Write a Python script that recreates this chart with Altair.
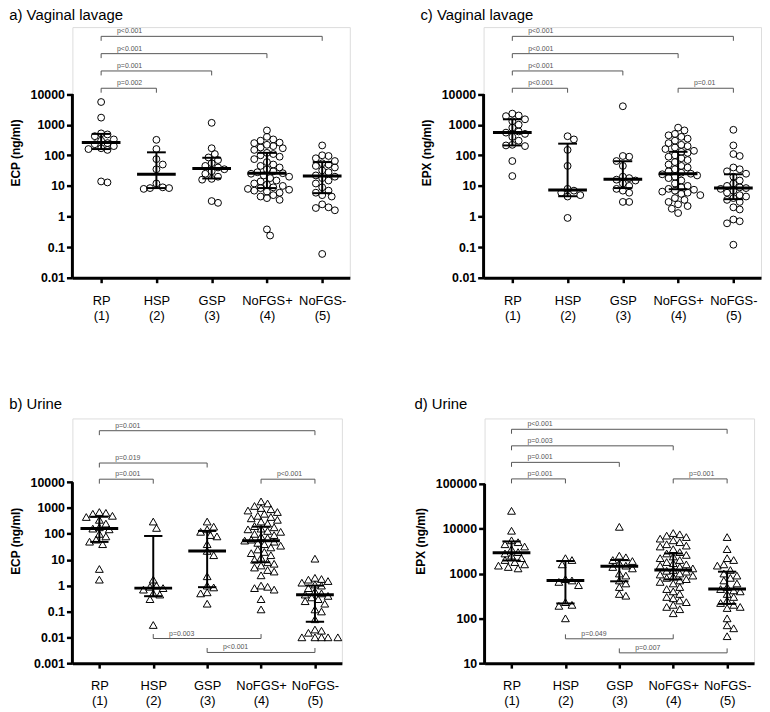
import json
import numpy as np
import pandas as pd
import altair as alt

FONT = "Liberation Sans"
GREY = "#555555"
GROUPS = ["RP", "HSP", "GSP", "NoFGS+", "NoFGS-"]

# ---------------- data ----------------
# a) ECP, vaginal lavage
a_vals = [
    [5500, 1700, 520, 480, 420, 330, 300, 250, 230, 200, 170, 160, 150, 14, 13],
    [320, 160, 75, 50, 35, 12, 9, 8.5, 8, 8.5],
    [1150, 170, 110, 85, 70, 55, 45, 40, 35, 30, 25, 20, 17, 16, 3.2, 2.8],
    [650, 400, 330, 300, 260, 250, 220, 200, 180, 170, 150, 120, 110, 100, 90, 75, 60, 50, 45, 40,
     35, 30, 28, 26, 25, 22, 20, 18, 15, 14, 12, 11, 10, 9, 8.5, 8, 7.5, 7, 6.5, 6, 5, 4.5, 4, 3.5, 0.38, 0.24],
    [210, 100, 95, 80, 65, 55, 50, 45, 40, 32, 28, 22, 20, 18, 15, 12, 9, 7, 6, 5, 4.5, 2.5, 2.0, 1.9, 1.6, 0.06],
]
a_med = [260, 24, 37, 26, 21]
a_q1 = [160, 8.5, 17.5, 8.5, 5.8]
a_q3 = [500, 125, 83, 120, 60]
a_br = [(1, 2, 1, "p=0.002"), (1, 3, 2, "p=0.001"), (1, 4, 3, "p<0.001"), (1, 5, 4, "p<0.001")]
a_br_low = []

# c) EPX, vaginal lavage
c_vals = [
    [2300, 2000, 1900, 1500, 1300, 1000, 800, 600, 550, 500, 400, 300, 220, 210, 200, 65, 21],
    [420, 330, 150, 45, 8, 7, 6, 5, 4.5, 0.9],
    [4000, 95, 90, 65, 45, 20, 18, 16, 15, 12, 10, 8, 7, 6, 3, 3],
    [800, 650, 500, 450, 400, 350, 300, 250, 220, 200, 180, 160, 140, 130, 120, 100, 90, 80, 70, 60,
     50, 45, 40, 35, 30, 27, 25, 24, 22, 20, 18, 15, 12, 10, 9, 8, 7.5, 7, 6.5, 6, 5.5, 5, 4, 3.5, 3,
     2.5, 2.2, 1.8, 1.3],
    [680, 210, 110, 95, 40, 35, 30, 25, 20, 15, 12, 10, 9, 8.5, 8, 7, 6, 5, 4.5, 4, 3.5, 3, 2, 1.7,
     0.8, 0.7, 0.6, 0.12],
]
c_med = [560, 7.4, 16.5, 25, 8.5]
c_q1 = [210, 4.6, 8.5, 7.8, 3.7]
c_q3 = [1500, 240, 64, 130, 24]
c_br = [(1, 2, 1, "p<0.001"), (1, 3, 2, "p<0.001"), (1, 4, 3, "p<0.001"), (1, 5, 4, "p<0.001"),
        (4, 5, 1, "p=0.01")]
c_br_low = []

# b) ECP, urine
b_vals = [
    [700, 650, 600, 500, 450, 350, 250, 180, 160, 150, 100, 80, 60, 50, 40, 4.4, 1.7],
    [300, 170, 1.7, 1.0, 0.9, 0.8, 0.7, 0.5, 0.45, 0.3, 0.03],
    [300, 190, 150, 120, 90, 80, 40, 22, 15, 2.3, 1.0, 0.85, 0.55, 0.5, 0.2],
    [1800, 1500, 1200, 1000, 900, 800, 700, 600, 500, 450, 400, 350, 300, 250, 200, 180, 160, 150,
     130, 120, 100, 90, 80, 70, 60, 55, 50, 45, 40, 35, 30, 25, 20, 18, 15, 12, 10, 8, 7, 6, 5, 4,
     3.5, 2.5, 1.0, 0.9, 0.8, 0.7, 0.3, 0.12],
    [11, 2.0, 1.8, 1.7, 1.5, 1.3, 1.1, 1.0, 0.8, 0.6, 0.5, 0.45, 0.4, 0.35, 0.3, 0.25, 0.2, 0.12,
     0.1, 0.05, 0.02, 0.018, 0.015, 0.01, 0.01, 0.01, 0.01, 0.01],
]
b_med = [160, 0.8, 22, 54, 0.44]
b_q1 = [49, 0.39, 0.87, 8, 0.04]
b_q3 = [460, 83, 130, 190, 1.0]
b_br = [(1, 2, 1, "p=0.001"), (1, 3, 2, "p=0.019"), (1, 5, 4, "p=0.001"), (4, 5, 1, "p<0.001")]
b_br_low = [(2, 4, 0.009, "p=0.003"), (3, 5, 0.0026, "p<0.001")]

# d) EPX, urine
d_vals = [
    [25000, 9000, 5500, 5000, 4500, 4000, 3500, 3000, 2800, 2500, 2200, 2000, 1800, 1600, 1500, 1400, 1300],
    [2200, 2000, 1600, 750, 700, 650, 550, 230, 200, 190, 100],
    [11000, 2500, 2300, 2000, 1900, 1700, 1500, 1400, 1300, 1000, 900, 700, 600, 500, 350, 320],
    [8000, 7500, 7000, 6500, 6000, 5500, 5000, 4500, 4200, 4000, 3500, 3000, 2800, 2600, 2400, 2200,
     2000, 1800, 1700, 1600, 1500, 1400, 1300, 1200, 1150, 1100, 1000, 950, 900, 850, 800, 750, 700,
     650, 600, 500, 450, 400, 350, 300, 280, 250, 230, 200, 180, 160, 130],
    [6500, 3500, 2200, 2000, 1600, 1500, 1200, 1000, 900, 800, 700, 600, 500, 450, 420, 400, 350, 300,
     250, 220, 200, 180, 170, 100, 70, 60, 40],
]
d_med = [2900, 700, 1450, 1200, 450]
d_q1 = [1950, 215, 670, 740, 210]
d_q3 = [5200, 1900, 2000, 2800, 1100]
d_br = [(1, 2, 1, "p=0.001"), (1, 3, 2, "p=0.001"), (1, 4, 3, "p=0.003"), (1, 5, 4, "p<0.001"),
        (4, 5, 1, "p=0.001")]
d_br_low = [(2, 4, 35, "p=0.049"), (3, 5, 17, "p=0.007")]

LABEL_EXPR = json.dumps([[g, f"({i + 1})"] for i, g in enumerate(GROUPS)]) + "[datum.value - 1]"


def swarm(vals, pxdec, pxunit, d):
    order = sorted(range(len(vals)), key=lambda k: -vals[k])
    placed = []
    offs = [0.0] * len(vals)
    for k in order:
        y = -np.log10(vals[k]) * pxdec
        cands = [0.0]
        for m in range(1, 40):
            cands += [m * d / 2, -m * d / 2]
        for c in cands:
            if all((c - px) ** 2 + (y - py) ** 2 >= d * d for px, py in placed):
                placed.append((c, y))
                offs[k] = c / pxunit
                break
    return offs


def panel(cfg, vals, med, q1, q3, br, br_low):
    width, height = cfg["width"], cfg["height"]
    xdom = cfg["xdom"]
    ylo, ytop_tick = cfg["ylo"], cfg["yticks"][-1]
    pxunit = width / (xdom[1] - xdom[0])
    pxdec = cfg["pxdec"]
    yhi = ylo * 10 ** (height / pxdec)

    xs = alt.Scale(domain=xdom, nice=False, zero=False)
    ys = alt.Scale(type="log", domain=[ylo, yhi], nice=False)
    xaxis = alt.Axis(values=[1, 2, 3, 4, 5], labelExpr=LABEL_EXPR, grid=False, domainWidth=3,
                     domainColor="black", tickWidth=2.5, tickSize=5, tickColor="black",
                     labelFontSize=13, labelFont=FONT, labelPadding=12, labelColor="black",
                     labelLineHeight=15, title=None)
    yaxis = alt.Axis(values=cfg["yticks"], format="~g", grid=False, domain=False, tickWidth=2.5,
                     tickSize=6, tickColor="black", labelFontSize=12.5, labelFontWeight="bold",
                     labelFont=FONT, labelPadding=2, labelColor="black", title=cfg["ytitle"],
                     titleFontSize=12, titleFontWeight="bold", titlePadding=8, titleFont=FONT,
                     titleColor="black")

    def X(f):
        return alt.X(f, type="quantitative", scale=xs, axis=xaxis)

    def Y(f):
        return alt.Y(f, type="quantitative", scale=ys, axis=yaxis)

    rows = []
    for gi, gv in enumerate(vals):
        offs = swarm(gv, pxdec, pxunit, cfg["gap"])
        for v, o in zip(gv, offs):
            rows.append({"x": gi + 1 + o, "v": v})
    pts = pd.DataFrame(rows)

    stats = pd.DataFrame({
        "g": [1, 2, 3, 4, 5], "med": med, "q1": q1, "q3": q3,
    })
    stats["lo"] = stats["g"] - 0.35
    stats["hi"] = stats["g"] + 0.35
    stats["clo"] = stats["g"] - 0.17
    stats["chi"] = stats["g"] + 0.17

    tick = 10 ** (4.5 / pxdec)
    brows = []
    for i, j, lvl, lab in br:
        yv = ytop_tick * 10 ** (cfg["br_base"] + (lvl - 1) * cfg["br_step"])
        brows.append({"xa": i, "xb": j, "y": yv, "yt": yv / tick, "label": lab})
    for i, j, yv, lab in br_low:
        brows.append({"xa": i, "xb": j, "y": yv, "yt": yv * tick, "label": lab})
    brd = pd.DataFrame(brows)

    axis_df = pd.DataFrame({"x0": [xdom[0]], "a": [ylo], "b": [ytop_tick]})

    base_pts = alt.Chart(pts).mark_point(shape=cfg["shape"], filled=False, color="black",
                                         size=cfg["size"], strokeWidth=1, opacity=1).encode(
        x=X("x"), y=Y("v"))
    med_l = alt.Chart(stats).mark_rule(color="black", strokeWidth=3).encode(
        x=X("lo"), x2="hi", y=Y("med"))
    iqr_l = alt.Chart(stats).mark_rule(color="black", strokeWidth=2).encode(
        x=X("g"), y=Y("q1"), y2="q3")
    cap1 = alt.Chart(stats).mark_rule(color="black", strokeWidth=2).encode(
        x=X("clo"), x2="chi", y=Y("q1"))
    cap3 = alt.Chart(stats).mark_rule(color="black", strokeWidth=2).encode(
        x=X("clo"), x2="chi", y=Y("q3"))
    bh = alt.Chart(brd).mark_rule(color=GREY, strokeWidth=1).encode(
        x=X("xa"), x2="xb", y=Y("y"))
    bl = alt.Chart(brd).mark_rule(color=GREY, strokeWidth=1).encode(
        x=X("xa"), y=Y("y"), y2="yt")
    brr = alt.Chart(brd).mark_rule(color=GREY, strokeWidth=1).encode(
        x=X("xb"), y=Y("y"), y2="yt")
    bt = alt.Chart(brd).mark_text(align="left", baseline="bottom", dx=16, dy=-2, fontSize=7,
                                   font=FONT, fill=GREY).encode(
        x=X("xa"), y=Y("y"), text="label")
    yline = alt.Chart(axis_df).mark_rule(color="black", strokeWidth=3).encode(
        x=X("x0"), y=Y("a"), y2="b")

    return alt.layer(base_pts, med_l, iqr_l, cap1, cap3, bh, bl, brr, bt, yline).properties(
        width=width, height=height,
        title=alt.TitleParams(cfg["title"], anchor="start", frame="bounds", fontSize=15,
                              fontWeight="normal", font=FONT, color="black",
                              offset=cfg["toff"]),
    )


top_ticks = [0.01, 0.1, 1, 10, 100, 1000, 10000]
cfg_a = dict(title="a) Vaginal lavage", ytitle="ECP (ng/ml)", width=280, height=253,
             xdom=[0.48, 5.5], ylo=0.01, yticks=top_ticks, pxdec=30.9, shape="circle", size=48,
             gap=6.4, br_base=0.19, br_step=0.565, toff=4)
cfg_c = dict(cfg_a, title="c) Vaginal lavage", ytitle="EPX (ng/ml)")
cfg_b = dict(title="b) Urine", ytitle="ECP (ng/ml)", width=272, height=247, xdom=[0.5, 5.5],
             ylo=0.001, yticks=[0.001] + top_ticks, pxdec=26.1, shape="triangle-up", size=62,
             gap=6.6, br_base=0.115, br_step=0.625, toff=7)
cfg_d = dict(title="d) Urine", ytitle="EPX (ng/ml)", width=272, height=247, xdom=[0.5, 5.5],
             ylo=10, yticks=[10, 100, 1000, 10000, 100000], pxdec=45.25, shape="triangle-up",
             size=62, gap=6.6, br_base=0.11, br_step=0.369, toff=7)

pa = panel(cfg_a, a_vals, a_med, a_q1, a_q3, a_br, a_br_low)
pc = panel(cfg_c, c_vals, c_med, c_q1, c_q3, c_br, c_br_low)
pb = panel(cfg_b, b_vals, b_med, b_q1, b_q3, b_br, b_br_low)
pd_ = panel(cfg_d, d_vals, d_med, d_q1, d_q3, d_br, d_br_low)

chart = alt.vconcat(
    alt.hconcat(pa, pc, spacing=69),
    alt.hconcat(pb, pd_, spacing=69),
    spacing=73,
).properties(
    padding={"left": 0, "top": -4, "right": 0, "bottom": 0}
).configure_view(stroke=None).configure(background="white")

chart.save("out.html", embed_options={"renderer": "svg", "actions": False})
